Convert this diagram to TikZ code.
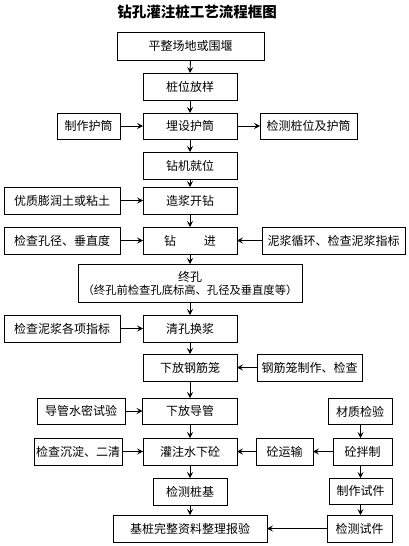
\documentclass[tikz,border=0pt]{standalone}
\usepackage{fontspec}
\setmainfont{Noto Sans CJK SC}
\usetikzlibrary{arrows.meta}
\begin{document}
\begin{tikzpicture}[x=1pt,y=-1pt,
  box/.style={draw,line width=0.9pt,inner sep=0pt,outer sep=0pt,align=center,font=\fontsize{12}{14}\selectfont},
  arr/.style={line width=0.9pt,-{Stealth[length=6pt,width=6pt,inset=2.5pt]}},
]
\useasboundingbox (0,0) rectangle (409,546);
\node[font=\fontsize{14.5}{16}\selectfont\bfseries] (title) at (197,12) {钻孔灌注桩工艺流程框图};
% main column
\node[box,minimum width=147pt,minimum height=28pt] (b1) at (190.5,46) {平整场地或围堰};
\node[box,minimum width=94pt,minimum height=27pt] (b2) at (190,86.5) {桩位放样};
\node[box,minimum width=94pt,minimum height=26pt] (b3) at (190,126) {埋设护筒};
\node[box,minimum width=94pt,minimum height=27pt] (b4) at (190,165.5) {钻机就位};
\node[box,minimum width=94pt,minimum height=27pt] (b5) at (190,200.5) {造浆开钻};
\node[box,minimum width=94pt,minimum height=27pt] (b6) at (190,240.5) {钻\hspace{2.3em}进};
\node[box,minimum width=224pt,minimum height=38pt] (b7) at (190,283) {终孔\\[-1pt]{\fontsize{11.3}{12}\selectfont （终孔前检查孔底标高、孔径及垂直度等）}};
\node[box,minimum width=94pt,minimum height=27pt] (b8) at (190,328.5) {清孔换浆};
\node[box,minimum width=94pt,minimum height=27pt] (b9) at (190,367.5) {下放钢筋笼};
\node[box,minimum width=95pt,minimum height=26pt] (b10) at (190,411) {下放导管};
\node[box,minimum width=94pt,minimum height=27pt] (b11) at (190,451.5) {灌注水下砼};
\node[box,minimum width=74pt,minimum height=27pt] (b12) at (190,491.5) {检测桩基};
\node[box,minimum width=154pt,minimum height=27pt] (b13) at (190,528.5) {基桩完整资料整理报验};
% left column
\node[box,minimum width=63pt,minimum height=26pt] (zz) at (88.5,126) {制作护筒};
\node[box,minimum width=116pt,minimum height=27pt] (yz) at (62,200.5) {优质膨润土或粘土};
\node[box,minimum width=116pt,minimum height=27pt] (jk) at (62,240.5) {检查孔径、垂直度};
\node[box,minimum width=116pt,minimum height=27pt] (jn) at (62,328.5) {检查泥浆各项指标};
\node[box,minimum width=88pt,minimum height=26pt] (dg) at (81,411) {导管水密试验};
\node[box,minimum width=88pt,minimum height=27pt] (cc) at (78,451.5) {检查沉淀、二清};
% right column
\node[box,minimum width=97pt,minimum height=26pt] (jc) at (308.5,126) {检测桩位及护筒};
\node[box,minimum width=143pt,minimum height=27pt] (nj) at (333.5,240.5) {泥浆循环、检查泥浆指标};
\node[box,minimum width=105pt,minimum height=27pt] (gj) at (309.5,367.5) {钢筋笼制作、检查};
\node[box,minimum width=64pt,minimum height=26pt] (cz) at (360,411.5) {材质检验};
\node[box,minimum width=57pt,minimum height=27pt] (ys) at (284.5,451.5) {砼运输};
\node[box,minimum width=59pt,minimum height=27pt] (bz) at (362.5,451.5) {砼拌制};
\node[box,minimum width=63pt,minimum height=26pt] (zs) at (360.5,491) {制作试件};
\node[box,minimum width=65pt,minimum height=27pt] (js) at (359.5,528.5) {检测试件};
% vertical arrows main
\foreach \a/\b in {b1/b2,b2/b3,b3/b4,b4/b5,b5/b6,b6/b7,b7/b8,b8/b9,b9/b10,b10/b11,b11/b12,b12/b13}
  \draw[arr] (\a.south) -- (\b.north);
% side arrows
\draw[arr] (zz.east) -- (b3.west);
\draw[arr] (b3.east) -- (jc.west);
\draw[arr] (yz.east) -- (b5.west);
\draw[arr] (jk.east) -- (b6.west);
\draw[arr] (nj.west) -- (b6.east);
\draw[arr] (jn.east) -- (b8.west);
\draw[arr] (gj.west) -- (b9.east);
\draw[arr] (dg.east) -- (b10.west);
\draw[arr] (cc.east) -- (b11.west);
\draw[arr] (ys.west) -- (b11.east);
\draw[arr] (bz.west) -- (ys.east);
\draw[arr] (js.west) -- (b13.east);
% right vertical arrows
\coordinate (rx) at (360.5,0);
\draw[arr] (rx |- cz.south) -- (rx |- bz.north);
\draw[arr] (rx |- bz.south) -- (rx |- zs.north);
\draw[arr] (rx |- zs.south) -- (rx |- js.north);
\end{tikzpicture}
\end{document}
